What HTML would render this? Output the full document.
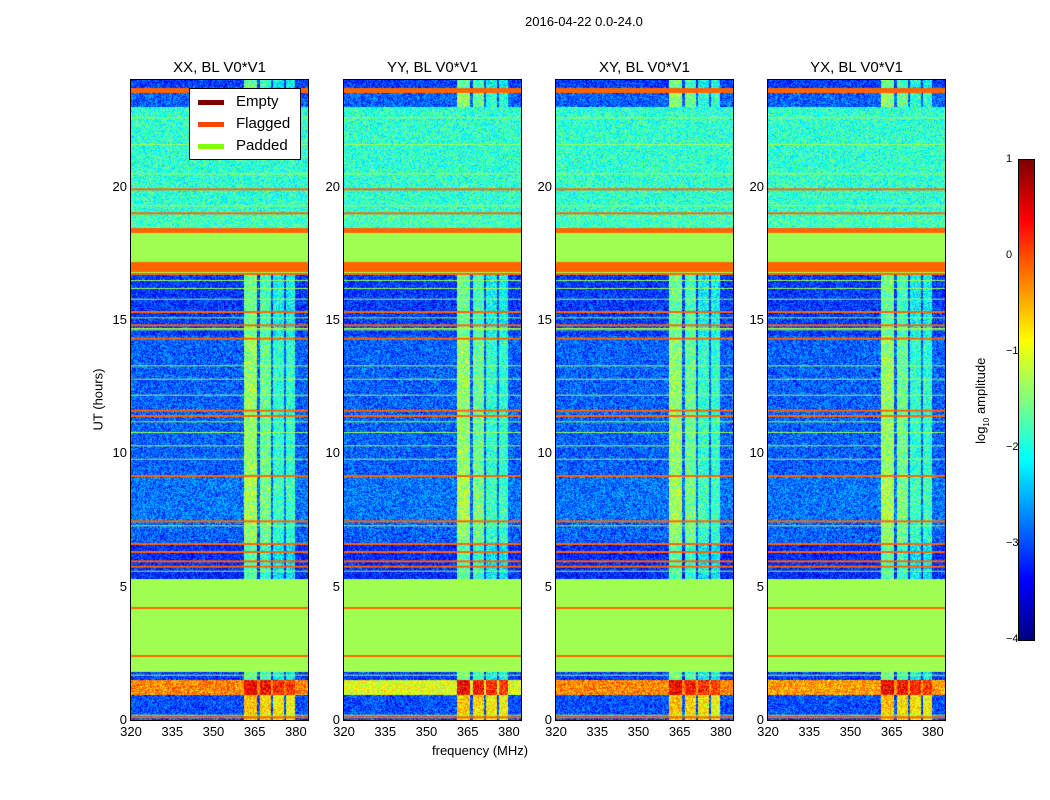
<!DOCTYPE html>
<html><head><meta charset="utf-8">
<style>
body{margin:0;background:#fff;font-family:"Liberation Sans",sans-serif;}
#wrap{position:relative;width:1050px;height:800px;overflow:hidden;background:#fff}
.t{position:absolute;font-size:13px;color:#000;white-space:nowrap}
canvas{position:absolute}
</style></head><body>
<div id="wrap">
<div class="t" style="left:525px;top:14px">2016-04-22 0.0-24.0</div>
<div class="t" style="left:432px;top:743px">frequency (MHz)</div>
<div class="t" style="left:50px;top:392px;width:96px;text-align:center;transform:rotate(-90deg)">UT (hours)</div>
<div class="t" style="left:922px;top:392px;width:120px;text-align:center;transform:rotate(-90deg)">log<sub style="font-size:8px">10</sub> amplitude</div>
</div>
<script>
// ----- data -----
const panelTitles=["XX, BL V0*V1","YY, BL V0*V1","XY, BL V0*V1","YX, BL V0*V1"];
const panelLefts=[131,344,556,768];
const xTicks=[320,335,350,365,380];
const yTicks=[0,5,10,15,20];
const cbTicks=[1,0,-1,-2,-3,-4];
// time bands [startHour,endHour,kind,level] ; kind: d=data, f=flagged, p=padded
const bandStart=[0,0.95,1.5,1.8,5.3,6.6,7.4,9.2,11.7,14.4,16.7,17.17,18.26,18.45,19.0,20.0,23.0,23.5,23.7];
const bandEnd  =[0.95,1.5,1.8,5.3,6.6,7.4,9.2,11.7,14.4,16.7,17.17,18.26,18.45,19.0,20.0,23.0,23.5,23.7,24];
const bandKind =["d","d","d","p","d","d","d","d","d","d","f","p","f","d","d","d","d","f","d"];
const bandLevel=[-3.0,0.0,-3.1,0,-3.2,-2.9,-2.8,-2.9,-2.9,-3.1,0,0,0,-1.8,-1.9,-1.9,-2.9,0,-3.1];
// thin flagged lines (hours) and thin padded lines
const flagLines=[0.1,2.4,4.2,5.75,5.95,6.3,6.6,7.45,9.15,11.4,11.6,14.3,14.8,15.3,19.0,19.9];
const padLines=[0.2,1.7,5.6,7.3,9.8,10.3,10.8,11.2,12.2,12.8,13.3,14.65,14.7,15.1,15.8,16.2,16.5,16.8,19.3,20.5,21.6,22.6];
// RFI channel groups (MHz) and their boost
const rfiStart=[361,366.8,371.8,376.3];
const rfiEnd=[366,371,375.5,379.6];
const rfiBoost=[1.5,1.3,1.0,1.0];
const lowBandLevel=[-0.3,-1.0,-0.3,-0.4];
const fMin=320,fMax=384.4,hMax=24,vMin=-4,vMax=1;
// ----- drawing -----
const W=177,H=640,TOP=80;
const wrap=document.getElementById('wrap');
function xs(f){return (f-fMin)/(fMax-fMin)*W;}
function ys(h){return H-h/hMax*H;}
function jet(v){let t=Math.max(0,Math.min(1,(v-vMin)/(vMax-vMin)));
 const c=x=>Math.max(0,Math.min(1,x));
 return [c(1.5-Math.abs(4*t-3))*255,c(1.5-Math.abs(4*t-2))*255,c(1.5-Math.abs(4*t-1))*255];}
function hash(x,y){let n=x*374761393+y*668265263;n=(n^(n>>13))*1274126177;n=n^(n>>16);return ((n>>>0)%1000)/1000;}
const PAD=[160,255,80],FLAG=[255,100,0];
function valueAt(p,f,h,x,y){
 for(let i=0;i<bandStart.length;i++){
  if(h>=bandStart[i]&&h<bandEnd[i]){
   if(bandKind[i]==='p')return PAD; if(bandKind[i]==='f')return FLAG;
   let v=bandLevel[i]; if(i===1)v=lowBandLevel[p];
   for(let j=0;j<rfiStart.length;j++) if(f>=rfiStart[j]&&f<rfiEnd[j]){
     if(i===1) v=0.4-j*0.1; else if(i===0) v=-0.6-j*0.1; else if(bandLevel[i]<-2) v+=rfiBoost[j];}
   v+=(hash(x+p*999,y)-0.5)*1.0;
   return jet(v);}
 }
 return PAD;
}
panelLefts.forEach((L,p)=>{
 const cv=document.createElement('canvas');cv.width=W;cv.height=H;
 cv.style.left=L+'px';cv.style.top=TOP+'px';
 
 
 const ctx=cv.getContext('2d');const img=ctx.createImageData(W,H);
 for(let y=0;y<H;y++){const h=(H-y-0.5)/H*hMax;
  for(let x=0;x<W;x++){const f=fMin+(x+0.5)/W*(fMax-fMin);const c=valueAt(p,f,h,x,y);
   const k=(y*W+x)*4;img.data[k]=c[0];img.data[k+1]=c[1];img.data[k+2]=c[2];img.data[k+3]=255;}}
 ctx.putImageData(img,0,0);
 ctx.fillStyle='rgb(160,255,80)';padLines.forEach(h=>ctx.fillRect(0,ys(h),W,1));
 ctx.fillStyle='rgb(255,100,0)';flagLines.forEach(h=>ctx.fillRect(0,ys(h)-1,W,2));
 wrap.appendChild(cv);
 const fr=document.createElement('div');
 fr.style.cssText=`position:absolute;left:${L-1}px;top:${TOP-1}px;width:${W}px;height:${H}px;border:1px solid #000`;
 
 
 wrap.appendChild(fr);
 const t=document.createElement('div');t.className='t';t.style.cssText=`left:${L}px;top:59px;width:${W}px;text-align:center;font-size:15px`;
 t.textContent=panelTitles[p];
 
 
 wrap.appendChild(t);
 xTicks.forEach(v=>{const lb=document.createElement('div');lb.className='t';
  lb.style.cssText=`left:${L+xs(v)-20}px;top:724px;width:40px;text-align:center`;lb.textContent=v;
  
  
  wrap.appendChild(lb);});
 yTicks.forEach(v=>{const lb=document.createElement('div');lb.className='t';
  lb.style.cssText=`left:${L-34}px;top:${TOP+ys(v)-8}px;width:30px;text-align:right`;lb.textContent=v;
  
  
  wrap.appendChild(lb);});
});
// legend
const lg=document.createElement('div');
lg.style.cssText='position:absolute;left:189px;top:88px;width:110px;height:70px;background:#fff;border:1px solid #000';


const legNames=["Empty","Flagged","Padded"],legCols=["#800000","#ff4400","#80ff00"];
legNames.forEach((n,i)=>{const e=document.createElement('div');
 e.style.cssText=`position:absolute;left:8px;top:${4+i*22}px;font-size:15px;white-space:nowrap`;
 e.innerHTML=`<span style="display:inline-block;width:26px;height:5px;background:${legCols[i]};vertical-align:middle;margin-right:12px"></span>${n}`;
 
 
 lg.appendChild(e);});
wrap.appendChild(lg);
// colorbar
const cb=document.createElement('canvas');cb.width=15;cb.height=480;
cb.style.left='1019px';cb.style.top='160px';cb.style.outline='1px solid #000';


const cc=cb.getContext('2d');
for(let y=0;y<480;y++){const c=jet(vMax-(y+0.5)/480*(vMax-vMin));cc.fillStyle=`rgb(${c[0]|0},${c[1]|0},${c[2]|0})`;cc.fillRect(0,y,15,1);}
wrap.appendChild(cb);
cbTicks.forEach(v=>{const lb=document.createElement('div');lb.className='t';lb.style.fontSize='11px';
 lb.style.left='1006px';lb.style.top=(160+(vMax-v)/(vMax-vMin)*480-7)+'px';
 lb.textContent=v<0?'\u2212'+(-v):v;
 
 
 wrap.appendChild(lb);});
</script>
</body></html>
